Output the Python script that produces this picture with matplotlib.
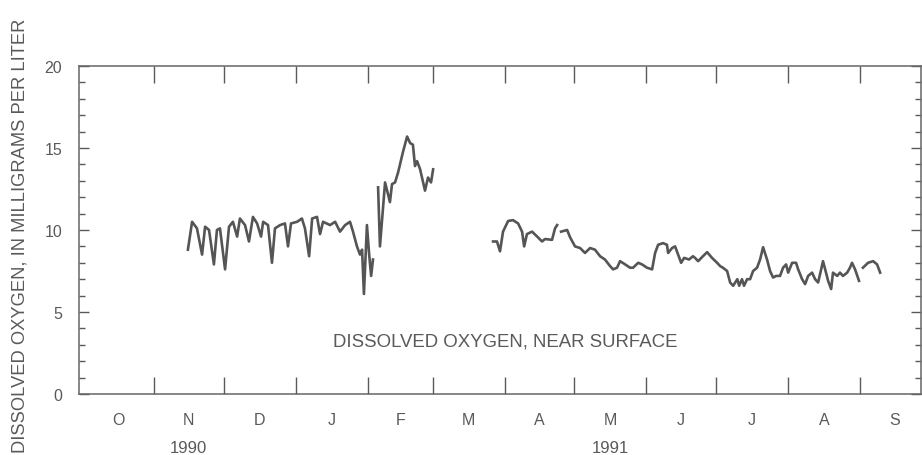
import numpy as np
import matplotlib
matplotlib.use("Agg")
import matplotlib.pyplot as plt
from matplotlib.ticker import FixedLocator, MultipleLocator, NullFormatter
import matplotlib.transforms as mtransforms

plt.rcParams['font.family'] = ['Liberation Sans', 'DejaVu Sans']

# 日数は1990年10月1日からの経過日数 (NaN は欠測)
nov_feb_days = [45.6, 47.4, 49.5, 51.7, 53.0, 54.7, 56.8, 58.1, 59.4, 61.6,
                63.3, 65.0, 66.8, 68.0, 70.2, 71.9, 73.6, 75.4, 77.1, 78.0,
                80.1, 81.8, 83.1, 85.3, 87.4, 88.7, 90.0, 92.6, 94.7, 96.0,
                97.8, 99.1, 101.2, 102.5, 103.8, 106.8, 109.0, 111.1, 113.3, 115.4,
                116.7, 118.4, 119.7, 120.6, 121.4, 122.7, 123.6, 124.5, 125.3, 126.4,
                127.5, 128.3, 130.5, 131.4, 132.6, 133.5, 134.8, 136.1, 138.2, 140.0,
                141.3, 142.5, 143.4, 144.3, 145.6, 147.7, 149.0, 150.3, 151.2]
nov_feb_do = [8.8, 10.5, 10.1, 8.5, 10.2, 10.0, 7.9, 10.0, 10.1, 7.6,
              10.2, 10.5, 9.6, 10.7, 10.3, 9.3, 10.8, 10.4, 9.6, 10.5,
              10.3, 8.0, 10.1, 10.3, 10.4, 9.0, 10.4, 10.5, 10.7, 10.1,
              8.4, 10.7, 10.8, 9.75, 10.5, 10.3, 10.5, 9.9, 10.3, 10.5,
              9.9, 9.0, 8.5, 8.8, 6.1, 10.3, 8.6, 7.2, 8.2, np.nan,
              12.6, 9.0, 12.9, 12.4, 11.7, 12.8, 12.9, 13.5, 14.75, 15.7,
              15.3, 15.2, 13.9, 14.2, 13.7, 12.4, 13.2, 12.9, 13.7]

mar_sep_days = [177.0, 178.7, 180.0, 181.3, 183.5, 185.6, 187.8, 189.5, 190.4, 191.6,
                193.8, 196.0, 198.1, 199.4, 202.4, 203.7, 204.6, 205.5, 206.3, 208.9,
                210.2, 212.3, 214.5, 216.6, 218.8, 220.9, 223.1, 225.2, 227.4, 228.7,
                230.4, 231.7, 233.9, 236.0, 237.3, 239.5, 241.2, 243.3, 245.5, 246.8,
                248.1, 250.2, 251.9, 252.4, 254.1, 255.4, 256.7, 258.0, 259.3, 261.4,
                263.1, 264.0, 265.3, 267.4, 269.2, 271.3, 273.5, 274.8, 276.0, 277.8,
                279.1, 280.4, 282.2, 283.0, 284.2, 285.1, 286.4, 287.7, 289.0, 290.7,
                292.0, 293.3, 295.0, 296.3, 297.6, 298.9, 300.6, 301.9, 303.2, 304.1,
                305.8, 307.5, 308.4, 310.1, 311.4, 312.7, 314.4, 315.7, 317.0, 318.3,
                319.1, 320.4, 321.3, 322.6, 323.4, 325.2, 326.4, 327.7, 329.5, 330.7,
                331.6, 332.9, 334.6, 335.5, 336.3, 338.5, 340.7, 342.4, 343.7]
mar_sep_do = [9.3, 9.3, 8.7, 9.9, 10.55, 10.6, 10.4, 9.9, 9.0, 9.75,
              9.9, 9.6, 9.3, 9.45, 9.4, 10.1, 10.3, np.nan, 9.9, 10.0,
              9.55, 9.0, 8.9, 8.6, 8.9, 8.8, 8.4, 8.2, 7.8, 7.6,
              7.7, 8.1, 7.9, 7.7, 7.7, 8.0, 7.9, 7.7, 7.6, 8.6,
              9.1, 9.2, 9.1, 8.6, 8.9, 9.0, 8.5, 8.0, 8.3, 8.2,
              8.4, 8.3, 8.1, 8.4, 8.65, 8.3, 8.0, 7.8, 7.7, 7.5,
              6.8, 6.6, 7.0, 6.6, 7.0, 6.6, 7.0, 7.0, 7.5, 7.7,
              8.2, 8.95, 8.2, 7.5, 7.1, 7.2, 7.2, 7.7, 7.9, 7.4,
              8.0, 8.0, 7.6, 7.0, 6.7, 7.2, 7.4, 7.0, 6.8, 7.6,
              8.1, 7.4, 6.9, 6.4, 7.4, 7.2, 7.4, 7.2, 7.4, 7.7,
              8.0, 7.6, 6.9, np.nan, 7.7, 8.0, 8.1, 7.9, 7.4]

# 月の区切り (経過日数) とラベル
month_starts = [0, 31, 61, 92, 123, 151, 182, 212, 243, 273, 304, 335, 365]
month_labels = ["O", "N", "D", "J", "F", "M", "A", "M", "J", "J", "A", "S"]
year_labels = ["1990", "1991"]
year_months = [1, 7]  # N と M の下

grey = "#5a5a5a"

fig = plt.figure(figsize=(9.22, 4.56), dpi=100)
ax = fig.add_axes([79 / 922, 61 / 456, 842 / 922, 328 / 456])

# 溶存酸素の折れ線
ax.plot(nov_feb_days, nov_feb_do, color="#555555", lw=1.9)
ax.plot(mar_sep_days, mar_sep_do, color="#555555", lw=1.9)

ax.set_xlim(-1.3, 361.3)
ax.set_ylim(0, 20)

# x軸: 月の区切りに目盛り、月の中央にラベル
mids = [(month_starts[i] + month_starts[i + 1]) / 2 for i in range(12)]
ax.xaxis.set_major_locator(FixedLocator(month_starts[1:-1]))
ax.xaxis.set_major_formatter(NullFormatter())
ax.xaxis.set_minor_locator(FixedLocator(mids))
ax.set_xticklabels(month_labels, minor=True)
ax.tick_params(axis="x", which="major", direction="in", length=12, width=1,
               top=True, color=grey)
ax.tick_params(axis="x", which="minor", length=0, pad=13, labelsize=11.5,
               labelcolor=grey)

# y軸
ax.yaxis.set_major_locator(MultipleLocator(5))
ax.yaxis.set_minor_locator(MultipleLocator(1))
ax.tick_params(axis="y", which="major", direction="in", length=7, width=1,
               right=True, pad=12, labelsize=11.5, labelcolor=grey, color=grey)
ax.tick_params(axis="y", which="minor", direction="in", length=4, width=1,
               right=True, color=grey)

for s in ax.spines.values():
    s.set_color("#666666")
    s.set_linewidth(1.1)

# 年ラベル
trans = mtransforms.blended_transform_factory(ax.transData, ax.transAxes)
for lab, m in zip(year_labels, year_months):
    ax.text(mids[m], -0.163, lab, transform=trans, ha="center", va="center",
            fontsize=12, color=grey)

fig.text(20 / 922, 1 - 236 / 456, "DISSOLVED OXYGEN, IN MILLIGRAMS PER LITER",
         rotation=90, ha="center", va="center", fontsize=13.2, color=grey)

ax.text((505 - 79) / 842, (395 - 342) / 328, "DISSOLVED OXYGEN, NEAR SURFACE",
        transform=ax.transAxes, ha="center", va="center",
        fontsize=13.4, color=grey)

fig.savefig("out.png", dpi=100)
